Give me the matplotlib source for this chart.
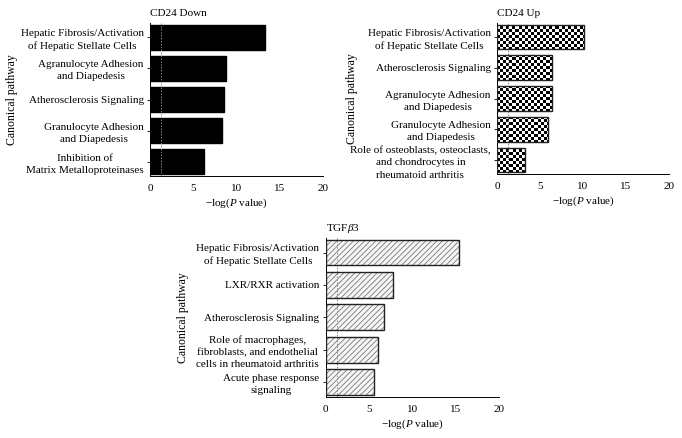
import numpy as np
import matplotlib
matplotlib.use("Agg")
import matplotlib.pyplot as plt

plt.rcParams['font.family'] = ['Liberation Serif', 'DejaVu Serif']
plt.rcParams['mathtext.fontset'] = 'custom'
plt.rcParams['mathtext.rm'] = 'Liberation Serif'
plt.rcParams['mathtext.it'] = 'Liberation Serif:italic'
plt.rcParams['hatch.linewidth'] = 0.6

# ---- data ----
down_labels = ["Hepatic Fibrosis/Activation\nof Hepatic Stellate Cells",
               "Agranulocyte Adhesion\nand Diapedesis",
               "Atherosclerosis Signaling",
               "Granulocyte Adhesion\nand Diapedesis",
               "Inhibition of\nMatrix Metalloproteinases"]
down_values = [13.3, 8.8, 8.6, 8.3, 6.3]

up_labels = ["Hepatic Fibrosis/Activation\nof Hepatic Stellate Cells",
             "Atherosclerosis Signaling",
             "Agranulocyte Adhesion\nand Diapedesis",
             "Granulocyte Adhesion\nand Diapedesis",
             "Role of osteoblasts, osteoclasts,\nand chondrocytes in\nrheumatoid arthritis"]
up_values = [10.1, 6.35, 6.35, 5.95, 3.2]

tgf_labels = ["Hepatic Fibrosis/Activation\nof Hepatic Stellate Cells",
              "LXR/RXR activation",
              "Atherosclerosis Signaling",
              "Role of macrophages,\nfibroblasts, and endothelial\ncells in rheumatoid arthritis",
              "Acute phase response\nsignaling"]
tgf_values = [15.4, 7.8, 6.8, 6.05, 5.6]

threshold = 1.3
xticks = [0, 5, 10, 15, 20]
titles = ["CD24 Down", "CD24 Up", r"TGF$\it{\beta}$3"]

W, H = 682, 438
fig = plt.figure(figsize=(W / 100, H / 100), dpi=100)


def rect(l, r, t, b):
    return [l / W, (H - b) / H, (r - l) / W, (b - t) / H]


FS = 8.0


def panel(pos, labels, values, title, style, ylab_x):
    ax = fig.add_axes(pos)
    y = np.arange(len(values))
    lo, hi = len(values) - 0.55, -0.45
    if style == 'solid':
        bars = ax.barh(y, values, height=0.8, color='black', edgecolor='black', zorder=2)
    elif style == 'hatch':
        bars = ax.barh(y, values, height=0.8, facecolor='#f6f6f6', edgecolor='#777777',
                       hatch='//////', linewidth=0, zorder=2)
        ax.barh(y, values, height=0.8, facecolor='none', edgecolor='#222222',
                linewidth=1.0, zorder=4)
    else:
        bars = ax.barh(y, values, height=0.8, facecolor='none', edgecolor='#222222',
                       linewidth=1.0, zorder=4)
    if style == 'checker':
        ny, nx = 49, 56
        tex = (np.add.outer(np.arange(ny), np.arange(nx)) % 2).astype(float)
        for b in bars:
            im = ax.imshow(tex, cmap='gray', vmin=0, vmax=1, interpolation='nearest',
                           extent=[0, 20, lo, hi], aspect='auto', zorder=2)
            im.set_clip_path(b)
    ax.set_xlim(0, 20)
    ax.set_ylim(lo, hi)
    ax.axvline(threshold, color='#888888', linestyle=(0, (1.5, 1.5)), linewidth=0.7, zorder=3)
    ax.set_yticks(y)
    ax.set_yticklabels(labels, fontsize=FS, linespacing=1.45)
    for t in ax.get_yticklabels():
        t.set_multialignment('center')
    ax.set_xticks(xticks)
    ax.set_xticklabels([str(v) for v in xticks], fontsize=FS)
    ax.tick_params(axis='y', length=2.5, width=0.6, pad=2)
    ax.tick_params(axis='x', length=0, pad=6)
    for s in ['top', 'right']:
        ax.spines[s].set_visible(False)
    for s in ['left', 'bottom']:
        ax.spines[s].set_linewidth(0.7)
    ax.set_xlabel(r"$-$log($\it{P}$ value)", fontsize=FS, labelpad=2.5)
    ax.set_ylabel("Canonical pathway", fontsize=FS + 0.5)
    ax.yaxis.set_label_coords(ylab_x, 0.5)
    ax.set_title(title, loc='left', fontsize=FS, pad=5)
    return ax


panel(rect(150, 323, 23, 176), down_labels, down_values, titles[0], 'solid', (18 - 150) / 173)
panel(rect(497, 669, 23, 174), up_labels, up_values, titles[1], 'checker', (358 - 497) / 172)
panel(rect(325.5, 499, 238, 396.5), tgf_labels, tgf_values, titles[2], 'hatch', (189 - 325.5) / 173.5)

fig.savefig("out.png", dpi=100)
